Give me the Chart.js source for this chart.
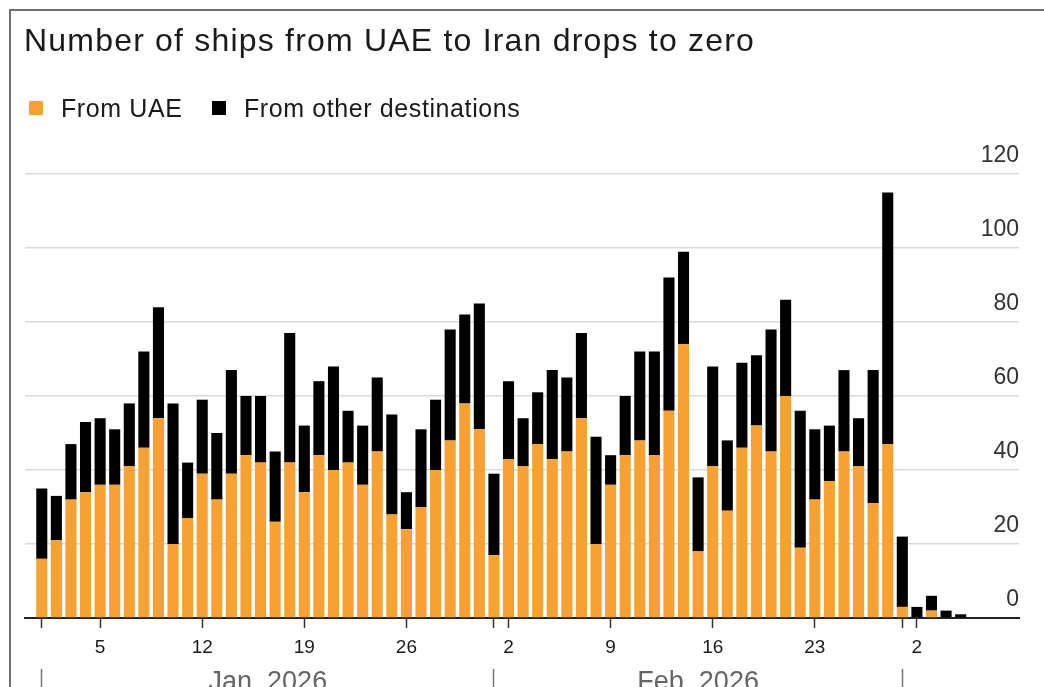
<!DOCTYPE html>
<html>
<head>
<meta charset="utf-8">
<script src="https://cdn.jsdelivr.net/npm/chart.js@4.4.1/dist/chart.umd.min.js"></script>
<style>
  html, body { margin: 0; padding: 0; background: #ffffff; width: 1044px; height: 687px; overflow: hidden; }
  #wrap { position: absolute; left: 0; top: 0; width: 1044px; height: 687px; }
  #frame { position: absolute; left: 9px; top: 9px; width: 1100px; height: 720px;
           border-top: 2px solid #707070; border-left: 2px solid #707070; pointer-events: none; }
  .txt { position: absolute; font-family: 'Liberation Sans', Arial, sans-serif; white-space: nowrap; color: #1a1a1a; }
  #title { left: 24px; top: 24px; font-size: 32px; line-height: 32px; letter-spacing: 1.2px; }
  .lgtext { top: 96px; font-size: 25px; line-height: 25px; letter-spacing: 0.6px; }
  .swatch { position: absolute; top: 101px; width: 14px; height: 14px; }
</style>
</head>
<body>
<div id="wrap"><canvas id="chart"></canvas></div>
<div id="frame"></div>
<div class="txt" id="title">Number of ships from UAE to Iran drops to zero</div>
<div id="legend"></div>
<script>
// ---- data ----
const days = [
  'Jan 1','Jan 2','Jan 3','Jan 4','Jan 5','Jan 6','Jan 7','Jan 8','Jan 9','Jan 10',
  'Jan 11','Jan 12','Jan 13','Jan 14','Jan 15','Jan 16','Jan 17','Jan 18','Jan 19','Jan 20',
  'Jan 21','Jan 22','Jan 23','Jan 24','Jan 25','Jan 26','Jan 27','Jan 28','Jan 29','Jan 30','Jan 31',
  'Feb 1','Feb 2','Feb 3','Feb 4','Feb 5','Feb 6','Feb 7','Feb 8','Feb 9','Feb 10',
  'Feb 11','Feb 12','Feb 13','Feb 14','Feb 15','Feb 16','Feb 17','Feb 18','Feb 19','Feb 20',
  'Feb 21','Feb 22','Feb 23','Feb 24','Feb 25','Feb 26','Feb 27','Feb 28',
  'Mar 1','Mar 2','Mar 3','Mar 4','Mar 5'
];
const fromUAE = [
  16,21,32,34,36,36,41,46,54,20,
  27,39,32,39,44,42,26,42,34,44,
  40,42,36,45,28,24,30,40,48,58,51,
  17,43,41,47,43,45,54,20,36,44,
  48,44,56,74,18,41,29,46,52,45,
  60,19,32,37,45,41,31,47,
  3,0,2,0,0
];
const fromOther = [
  19,12,15,19,18,15,17,26,30,38,
  15,20,18,28,16,18,19,35,18,20,
  28,14,16,20,27,10,21,19,30,24,34,
  22,21,13,14,24,20,23,29,8,16,
  24,28,36,25,20,27,19,23,19,33,
  26,37,19,15,22,13,36,68,
  19,3,4,2,1
];
const seriesNames = ['From UAE', 'From other destinations'];
const seriesColors = ['#f7a133', '#000000'];

const xTickDays   = ['Jan 1','Jan 5','Jan 12','Jan 19','Jan 26','Feb 1','Feb 2','Feb 9','Feb 16','Feb 23','Mar 1','Mar 2'];
const xTickLabels = ['',     '5',    '12',    '19',    '26',    '',     '2',    '9',    '16',    '23',    '',     '2'];
const monthStartDays = ['Jan 1','Feb 1','Mar 1'];
const monthLabels = ['Jan. 2026','Feb. 2026'];
const yTickValues = [0, 20, 40, 60, 80, 100, 120];

// ---- derived ----
const dayIndex = d => days.indexOf(d);
const xTickPos = xTickDays.map(dayIndex);
const monthPos = monthStartDays.map(dayIndex);
const x2Ticks = [];
const x2Labels = [];
monthPos.forEach((p, i) => {
  x2Ticks.push(p); x2Labels.push('');
  if (i < monthPos.length - 1) { x2Ticks.push((p + monthPos[i + 1]) / 2); x2Labels.push(monthLabels[i]); }
});
const xMin = -1.15, xMax = 67;

// ---- legend (HTML) ----
const legendEl = document.getElementById('legend');
const swatchLeft = [29, 212], textLeft = [61, 244];
seriesNames.forEach((name, i) => {
  const sw = document.createElement('div');
  sw.className = 'swatch'; sw.style.left = swatchLeft[i] + 'px'; sw.style.background = seriesColors[i];
  legendEl.appendChild(sw);
  const t = document.createElement('div');
  t.className = 'txt lgtext'; t.style.left = textLeft[i] + 'px'; t.textContent = name;
  legendEl.appendChild(t);
});

// ---- chart ----
Chart.defaults.font.family = "'Liberation Sans', Arial, sans-serif";
const transparent = 'rgba(0,0,0,0)';

new Chart(document.getElementById('chart'), {
  type: 'bar',
  data: {
    datasets: [
      { label: seriesNames[0], data: fromUAE.map((v, i) => ({ x: i, y: v })), backgroundColor: seriesColors[0],
        barPercentage: 0.76, categoryPercentage: 1 },
      { label: seriesNames[1], data: fromOther.map((v, i) => ({ x: i, y: v })), backgroundColor: seriesColors[1],
        barPercentage: 0.76, categoryPercentage: 1 }
    ]
  },
  options: {
    animation: false,
    responsive: true,
    maintainAspectRatio: false,
    layout: { padding: { left: 25, right: 25, top: 174, bottom: 0 } },
    plugins: { legend: { display: false }, title: { display: false }, tooltip: { enabled: false } },
    scales: {
      x: {
        type: 'linear', position: 'bottom', min: xMin, max: xMax, bounds: 'data', offset: false,
        stacked: true, weight: 0, z: 1,
        grid: { display: true, drawOnChartArea: false, drawTicks: true, tickLength: 10, tickWidth: 1.5,
                tickColor: '#333333', offset: false },
        border: { display: true, color: '#222222', width: 2 },
        afterBuildTicks: s => { s.ticks = xTickPos.map(v => ({ value: v })); },
        afterFit: s => { s.height = 51; },
        ticks: { autoSkip: false, maxRotation: 0, minRotation: 0, padding: 8.5, color: '#1a1a1a',
                 font: { size: 19 }, callback: (v, i) => xTickLabels[i] }
      },
      x2: {
        type: 'linear', axis: 'x', position: 'bottom', min: xMin, max: xMax, bounds: 'data', offset: false,
        weight: 1,
        grid: { display: true, drawOnChartArea: false, drawTicks: true, tickLength: 20, tickWidth: 1.5, offset: false,
                tickColor: c => (c.tick && monthPos.includes(c.tick.value)) ? '#777777' : transparent },
        border: { display: false },
        afterBuildTicks: s => { s.ticks = x2Ticks.map(v => ({ value: v })); },
        afterFit: s => { s.height = 18; },
        ticks: { autoSkip: false, maxRotation: 0, minRotation: 0, padding: -23, color: '#666666',
                 font: { size: 27 }, callback: (v, i) => x2Labels[i] }
      },
      y: {
        type: 'linear', position: 'right', min: yTickValues[0], max: yTickValues[yTickValues.length - 1],
        stacked: true,
        afterBuildTicks: s => { s.ticks = yTickValues.map(v => ({ value: v })); },
        grid: { color: c => (c.tick && c.tick.value === 0) ? transparent : '#dadada', lineWidth: 1.5, drawTicks: false },
        border: { display: false },
        ticks: { mirror: true, padding: 0, labelOffset: -18, color: '#333333', font: { size: 23 } }
      }
    }
  }
});
</script>
</body>
</html>
